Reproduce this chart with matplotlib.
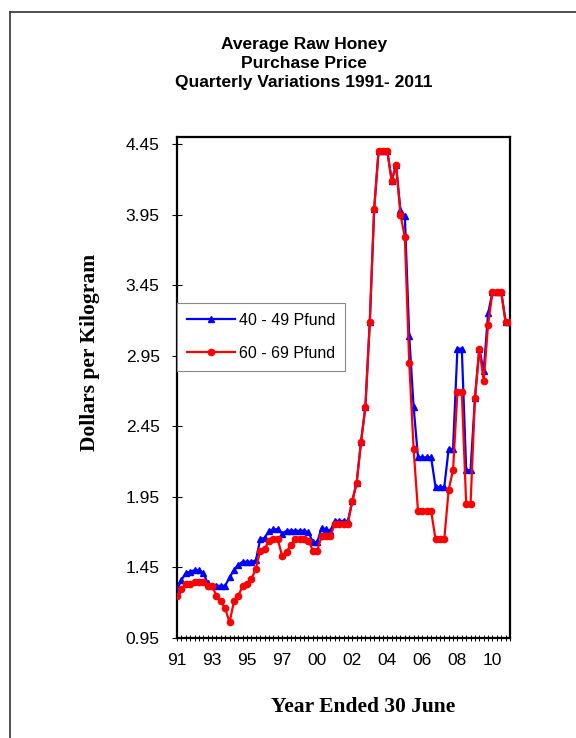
import matplotlib
matplotlib.use("Agg")
import matplotlib.pyplot as plt
from matplotlib.lines import Line2D
import numpy as np

# Quarterly average raw honey purchase price (dollars per kilogram)
pfund_40_49 = [
    1.29, 1.36, 1.41, 1.42, 1.43, 1.43, 1.41, 1.34, 1.32, 1.32,
    1.32, 1.32, 1.38, 1.43, 1.47, 1.49, 1.49, 1.49, 1.50, 1.65,
    1.66, 1.71, 1.72, 1.72, 1.69, 1.71, 1.71, 1.71, 1.71, 1.71,
    1.70, 1.63, 1.63, 1.73, 1.72, 1.71, 1.78, 1.78, 1.78, 1.78,
    1.92, 2.05, 2.34, 2.59, 3.19, 3.99, 4.40, 4.40, 4.40, 4.19,
    4.30, 3.98, 3.94, 3.09, 2.59, 2.23, 2.23, 2.23, 2.23, 2.02,
    2.02, 2.02, 2.29, 2.29, 3.00, 3.00, 2.14, 2.14, 2.65, 3.00,
    2.84, 3.25, 3.40, 3.40, 3.40, 3.19, 3.19,
]
pfund_60_69 = [
    1.25, 1.30, 1.33, 1.33, 1.35, 1.35, 1.35, 1.32, 1.32, 1.25,
    1.21, 1.16, 1.06, 1.21, 1.25, 1.32, 1.33, 1.37, 1.44, 1.57,
    1.58, 1.64, 1.65, 1.65, 1.53, 1.56, 1.61, 1.65, 1.65, 1.65,
    1.64, 1.57, 1.57, 1.67, 1.67, 1.67, 1.76, 1.76, 1.76, 1.76,
    1.92, 2.05, 2.34, 2.59, 3.19, 3.99, 4.40, 4.40, 4.40, 4.19,
    4.30, 3.95, 3.79, 2.90, 2.29, 1.85, 1.85, 1.85, 1.85, 1.65,
    1.65, 1.65, 2.00, 2.14, 2.69, 2.69, 1.90, 1.90, 2.65, 3.00,
    2.77, 3.17, 3.40, 3.40, 3.40, 3.19, 3.19,
]
year_labels = ["91", "93", "95", "97", "00", "02", "04", "06", "08", "10"]
y_ticks = [0.95, 1.45, 1.95, 2.45, 2.95, 3.45, 3.95, 4.45]
series_names = ["40 - 49 Pfund", "60 - 69 Pfund"]

sans = ["Liberation Sans", "DejaVu Sans"]
serif = ["Liberation Serif", "DejaVu Serif"]

W, H = 576, 738
fig = plt.figure(figsize=(W / 100, H / 100), dpi=100)
fig.patch.set_facecolor("white")

# page frame
fig.add_artist(Line2D([10 / W, 10 / W], [0, 1 - 12 / H], transform=fig.transFigure,
                      color="#333333", lw=1.2))
fig.add_artist(Line2D([10 / W, 1], [1 - 12 / H, 1 - 12 / H], transform=fig.transFigure,
                      color="#333333", lw=1.2))

left, right, top, bottom = 177, 510, 137, 638
ax = fig.add_axes([left / W, 1 - bottom / H, (right - left) / W, (bottom - top) / H])

x = np.arange(len(pfund_40_49))
ax.plot(x, pfund_40_49, color="#0000ff", lw=1.6, marker="^", ms=4.2,
        label=series_names[0], zorder=3)
ax.plot(x, pfund_60_69, color="#ff0000", lw=1.6, marker="o", ms=4.5,
        label=series_names[1], zorder=4)

ax.set_xlim(0, 76)
ax.set_ylim(0.95, 4.50)

ax.set_yticks(y_ticks)
ax.set_yticklabels([f"{v:.2f}" for v in y_ticks], fontfamily=sans, fontsize=12.5)
ax.tick_params(axis="y", direction="inout", length=7, width=0.8, pad=9)

ax.set_xticks(np.arange(0, 73, 8))
ax.set_xticklabels(year_labels, fontfamily=sans, fontsize=12.5)
ax.set_xticks(np.arange(0, 77, 1), minor=True)
ax.tick_params(axis="x", which="both", direction="inout", length=5, width=0.7, pad=8)

for s in ax.spines.values():
    s.set_linewidth(1.6)
    s.set_color("black")

leg = ax.legend(loc="upper left", bbox_to_anchor=(0.0, 1 - (303 - top) / (bottom - top)),
                prop={"family": sans, "size": 11.5}, frameon=True, fancybox=False,
                edgecolor="#888888", framealpha=1, borderaxespad=0,
                handlelength=3.0, labelspacing=1.15, borderpad=0.6, handletextpad=0.3)
leg.get_frame().set_linewidth(0.8)

# titles
title_lines = ["Average Raw Honey", "Purchase Price", "Quarterly Variations 1991- 2011"]
for line, yy in zip(title_lines, [45, 63, 82]):
    fig.text(304 / W, 1 - yy / H, line, ha="center", va="center",
             fontfamily=sans, fontweight="bold", fontsize=12.5)

fig.text(90 / W, 1 - 352 / H, "Dollars per Kilogram", rotation=90, ha="center",
         va="center", fontfamily=serif, fontweight="bold", fontsize=15.5)
fig.text(363 / W, 1 - 707 / H, "Year Ended 30 June", ha="center", va="center",
         fontfamily=serif, fontweight="bold", fontsize=15.5)

fig.savefig("out.png", dpi=100)
